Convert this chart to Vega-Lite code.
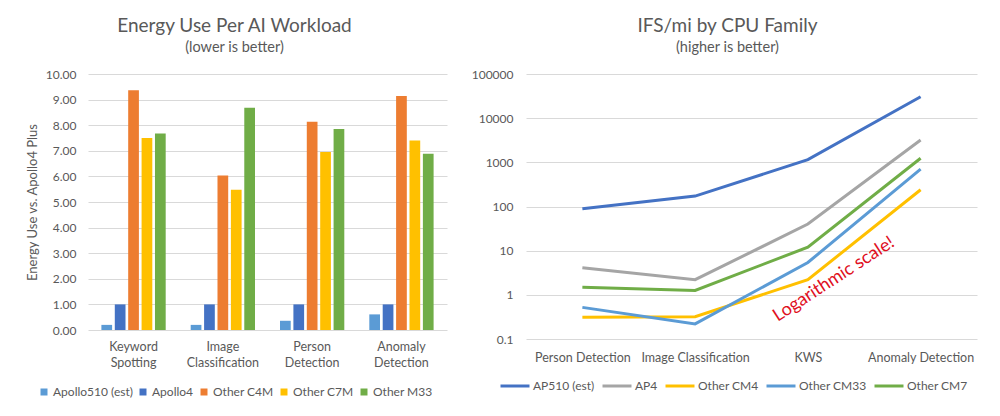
{
  "$schema": "https://vega.github.io/schema/vega-lite/v6.json",
  "padding": {"left": 26, "top": 16, "right": 5, "bottom": 5},
  "background": "white",
  "bounds": "flush",
  "spacing": 79,
  "resolve": {"scale": {"color": "independent"}, "legend": {"color": "independent"}},
  "config": {
    "font": "Lato",
    "view": {"stroke": null},
    "axis": {"labelColor": "#595959", "labelFontSize": 12, "titleColor": "#595959", "titleFontWeight": "normal", "gridColor": "#D9D9D9", "domain": false, "ticks": false},
    "legend": {"labelColor": "#595959", "labelFontSize": 12, "title": null},
    "title": {"color": "#595959", "fontWeight": "normal", "fontSize": 19, "subtitleColor": "#595959", "subtitleFontSize": 14.5, "subtitlePadding": 5, "frame": "group", "anchor": "middle", "offset": 14}
  },
  "hconcat": [
    {
      "width": 359,
      "height": 256,
      "title": {"text": "Energy Use Per AI Workload", "subtitle": "(lower is better)", "dx": -33},
      "data": {"values": [
        {"Workload": "Keyword Spotting", "Chip": "Apollo510 (est)", "Energy": 0.2},
        {"Workload": "Keyword Spotting", "Chip": "Apollo4", "Energy": 1.0},
        {"Workload": "Keyword Spotting", "Chip": "Other C4M", "Energy": 9.37},
        {"Workload": "Keyword Spotting", "Chip": "Other C7M", "Energy": 7.5},
        {"Workload": "Keyword Spotting", "Chip": "Other M33", "Energy": 7.68},
        {"Workload": "Image Classification", "Chip": "Apollo510 (est)", "Energy": 0.2},
        {"Workload": "Image Classification", "Chip": "Apollo4", "Energy": 1.0},
        {"Workload": "Image Classification", "Chip": "Other C4M", "Energy": 6.04},
        {"Workload": "Image Classification", "Chip": "Other C7M", "Energy": 5.48},
        {"Workload": "Image Classification", "Chip": "Other M33", "Energy": 8.68},
        {"Workload": "Person Detection", "Chip": "Apollo510 (est)", "Energy": 0.36},
        {"Workload": "Person Detection", "Chip": "Apollo4", "Energy": 1.0},
        {"Workload": "Person Detection", "Chip": "Other C4M", "Energy": 8.13},
        {"Workload": "Person Detection", "Chip": "Other C7M", "Energy": 6.95},
        {"Workload": "Person Detection", "Chip": "Other M33", "Energy": 7.85},
        {"Workload": "Anomaly Detection", "Chip": "Apollo510 (est)", "Energy": 0.61},
        {"Workload": "Anomaly Detection", "Chip": "Apollo4", "Energy": 1.0},
        {"Workload": "Anomaly Detection", "Chip": "Other C4M", "Energy": 9.14},
        {"Workload": "Anomaly Detection", "Chip": "Other C7M", "Energy": 7.4},
        {"Workload": "Anomaly Detection", "Chip": "Other M33", "Energy": 6.88}
      ]},
      "mark": {"type": "bar"},
      "encoding": {
        "x": {
          "field": "Workload", "type": "nominal",
          "sort": ["Keyword Spotting", "Image Classification", "Person Detection", "Anomaly Detection"],
          "scale": {"paddingInner": 0.28, "paddingOuter": 0.15},
          "axis": {"title": null, "labelAngle": 0, "labelExpr": "split(datum.label, ' ')", "labelPadding": 10, "labelLineHeight": 16, "labelFontSize": 12.5}
        },
        "xOffset": {
          "field": "Chip", "type": "nominal",
          "sort": ["Apollo510 (est)", "Apollo4", "Other C4M", "Other C7M", "Other M33"],
          "scale": {"paddingInner": 0.2}
        },
        "y": {
          "field": "Energy", "type": "quantitative",
          "scale": {"domain": [0, 10]},
          "axis": {"values": [0, 1, 2, 3, 4, 5, 6, 7, 8, 9, 10], "format": ".2f", "title": "Energy Use vs. Apollo4 Plus", "titleFontSize": 13, "labelPadding": 12, "titlePadding": 6}
        },
        "color": {
          "field": "Chip", "type": "nominal",
          "scale": {"domain": ["Apollo510 (est)", "Apollo4", "Other C4M", "Other C7M", "Other M33"], "range": ["#5B9BD5", "#4472C4", "#ED7D31", "#FFC000", "#70AD47"]},
          "legend": {"orient": "none", "legendX": -50, "legendY": 312, "direction": "horizontal", "columns": 5, "symbolType": "square", "symbolSize": 49, "labelOffset": 3, "columnPadding": 4}
        }
      }
    },
    {
      "width": 451,
      "height": 265,
      "title": {"text": "IFS/mi by CPU Family", "subtitle": "(higher is better)", "dx": -24},
      "layer": [
        {
          "data": {"values": [
            {"Task": "Person Detection", "CPU": "AP510 (est)", "IFS": 89},
            {"Task": "Image Classification", "CPU": "AP510 (est)", "IFS": 172},
            {"Task": "KWS", "CPU": "AP510 (est)", "IFS": 1150},
            {"Task": "Anomaly Detection", "CPU": "AP510 (est)", "IFS": 30500},
            {"Task": "Person Detection", "CPU": "AP4", "IFS": 4.1},
            {"Task": "Image Classification", "CPU": "AP4", "IFS": 2.2},
            {"Task": "KWS", "CPU": "AP4", "IFS": 40},
            {"Task": "Anomaly Detection", "CPU": "AP4", "IFS": 3200},
            {"Task": "Person Detection", "CPU": "Other CM4", "IFS": 0.31},
            {"Task": "Image Classification", "CPU": "Other CM4", "IFS": 0.32},
            {"Task": "KWS", "CPU": "Other CM4", "IFS": 2.2},
            {"Task": "Anomaly Detection", "CPU": "Other CM4", "IFS": 240},
            {"Task": "Person Detection", "CPU": "Other CM33", "IFS": 0.52},
            {"Task": "Image Classification", "CPU": "Other CM33", "IFS": 0.22},
            {"Task": "KWS", "CPU": "Other CM33", "IFS": 5.4},
            {"Task": "Anomaly Detection", "CPU": "Other CM33", "IFS": 700},
            {"Task": "Person Detection", "CPU": "Other CM7", "IFS": 1.48},
            {"Task": "Image Classification", "CPU": "Other CM7", "IFS": 1.26},
            {"Task": "KWS", "CPU": "Other CM7", "IFS": 12},
            {"Task": "Anomaly Detection", "CPU": "Other CM7", "IFS": 1240}
          ]},
          "mark": {"type": "line", "strokeWidth": 3},
          "encoding": {
            "x": {
              "field": "Task", "type": "nominal",
              "sort": ["Person Detection", "Image Classification", "KWS", "Anomaly Detection"],
              "scale": {"type": "point", "padding": 0.5},
              "axis": {"title": null, "labelAngle": 0, "labelPadding": 12, "labelFontSize": 12.5, "grid": false}
            },
            "y": {
              "field": "IFS", "type": "quantitative",
              "scale": {"type": "log", "domain": [0.1, 100000]},
              "axis": {"values": [0.1, 1, 10, 100, 1000, 10000, 100000], "format": ".1~f", "title": null, "labelPadding": 13}
            },
            "color": {
              "field": "CPU", "type": "nominal",
              "scale": {"domain": ["AP510 (est)", "AP4", "Other CM4", "Other CM33", "Other CM7"], "range": ["#4472C4", "#A5A5A5", "#FFC000", "#5B9BD5", "#70AD47"]},
              "legend": {"orient": "none", "legendX": -27, "legendY": 296, "direction": "horizontal", "columns": 5, "symbolType": "stroke", "symbolSize": 841, "symbolStrokeWidth": 3, "labelOffset": 2, "columnPadding": 1}
            }
          }
        },
        {
          "data": {"values": [{"note": "Logarithmic scale!"}]},
          "mark": {"type": "text", "color": "#E0101E", "fontSize": 18, "angle": 327, "align": "center", "baseline": "middle", "dx": 22, "dy": 14},
          "encoding": {
            "x": {"datum": "KWS", "type": "nominal"},
            "y": {"datum": 2.2, "type": "quantitative"},
            "text": {"field": "note", "type": "nominal"}
          }
        }
      ]
    }
  ]
}
